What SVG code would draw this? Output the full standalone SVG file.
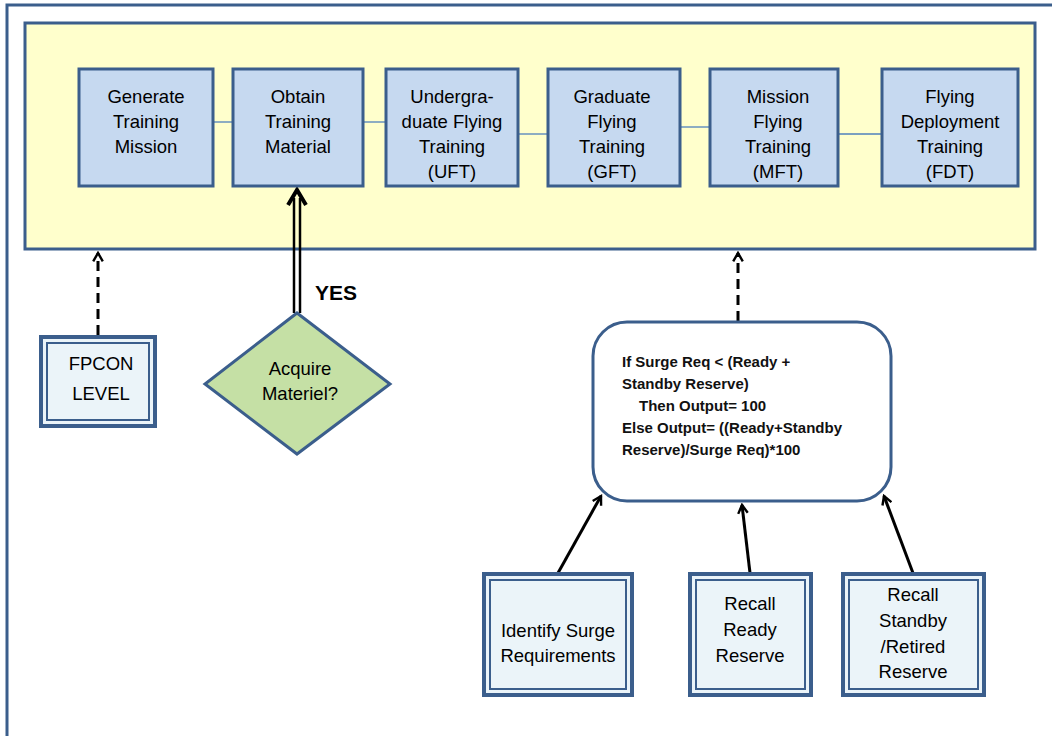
<svg xmlns="http://www.w3.org/2000/svg" width="1052" height="736" viewBox="0 0 1052 736">
<defs>
<style>
.t{font-family:"Liberation Sans",Arial,sans-serif;font-size:18.5px;fill:#000;text-anchor:middle}
.b{font-family:"Liberation Sans",Arial,sans-serif;font-size:15px;font-weight:bold;fill:#111}
.box{fill:#c6d9f0;stroke:#3b5e8c;stroke-width:3}
.lnk{stroke:#4f81bd;stroke-width:1.3;fill:none}
.dbl{fill:#ebf4f9;stroke:#3b5e8c;stroke-width:4}
.dbi{fill:none;stroke:#3b5e8c;stroke-width:2}
.arr{stroke:#000;stroke-width:3;fill:none}
</style>
<marker id="ah" viewBox="0 0 10 10" refX="8" refY="5" markerWidth="4" markerHeight="4" orient="auto" markerUnits="strokeWidth">
<path d="M1,1 L8,5 L1,9" fill="none" stroke="#000" stroke-width="2"/>
</marker>
</defs>
<rect width="1052" height="736" fill="#fff"/>
<path d="M7,736 V5 H1052" fill="none" stroke="#3b5e8c" stroke-width="3"/>
<g id="panel"><rect x="25" y="23" width="1010" height="226" fill="#ffffcc" stroke="#3b5e8c" stroke-width="3"/></g>
<g id="connectors">
<line class="lnk" x1="213" y1="122" x2="233" y2="122"/>
<line class="lnk" x1="363" y1="122" x2="386" y2="122"/>
<line class="lnk" x1="518" y1="134" x2="548" y2="134"/>
<line class="lnk" x1="680" y1="127" x2="710" y2="127"/>
<line class="lnk" x1="838" y1="134" x2="882" y2="134"/>
<line class="arr" x1="98" y1="335" x2="98" y2="253" stroke-dasharray="10,6" marker-end="url(#ah)"/>
<line class="arr" x1="738" y1="321" x2="738" y2="253" stroke-dasharray="10,6" marker-end="url(#ah)"/>
<line x1="294" y1="313" x2="294" y2="198" stroke="#000" stroke-width="2.5"/>
<line x1="300" y1="313" x2="300" y2="198" stroke="#000" stroke-width="2.5"/>
<path d="M288,205 L297,190 L306,205" fill="none" stroke="#000" stroke-width="4" stroke-linejoin="miter"/>
<line class="arr" x1="558" y1="573" x2="601" y2="496" marker-end="url(#ah)"/>
<line class="arr" x1="750" y1="573" x2="742" y2="505" marker-end="url(#ah)"/>
<line class="arr" x1="913" y1="573" x2="884" y2="496" marker-end="url(#ah)"/>
<text x="315" y="300" font-family="Liberation Sans,Arial,sans-serif" font-size="21" font-weight="bold" fill="#000">YES</text>
</g>
<g id="n1"><rect class="box" x="79" y="69" width="134" height="117"/><text class="t" x="146" y="103">Generate</text><text class="t" x="146" y="128">Training</text><text class="t" x="146" y="153">Mission</text></g>
<g id="n2"><rect class="box" x="233" y="69" width="130" height="117"/><text class="t" x="298" y="103">Obtain</text><text class="t" x="298" y="128">Training</text><text class="t" x="298" y="153">Material</text></g>
<g id="n3"><rect class="box" x="386" y="69" width="132" height="117"/><text class="t" x="452" y="103">Undergra-</text><text class="t" x="452" y="128">duate Flying</text><text class="t" x="452" y="153">Training</text><text class="t" x="452" y="178">(UFT)</text></g>
<g id="n4"><rect class="box" x="548" y="69" width="132" height="117"/><text class="t" x="612" y="103">Graduate</text><text class="t" x="612" y="128">Flying</text><text class="t" x="612" y="153">Training</text><text class="t" x="612" y="178">(GFT)</text></g>
<g id="n5"><rect class="box" x="710" y="69" width="128" height="117"/><text class="t" x="778" y="103">Mission</text><text class="t" x="778" y="128">Flying</text><text class="t" x="778" y="153">Training</text><text class="t" x="778" y="178">(MFT)</text></g>
<g id="n6"><rect class="box" x="882" y="69" width="136" height="117"/><text class="t" x="950" y="103">Flying</text><text class="t" x="950" y="128">Deployment</text><text class="t" x="950" y="153">Training</text><text class="t" x="950" y="178">(FDT)</text></g>
<g id="fpcon"><rect class="dbl" x="41" y="337" width="114" height="89"/><rect class="dbi" x="47" y="343" width="102" height="77"/><text class="t" x="101" y="370">FPCON</text><text class="t" x="101" y="400">LEVEL</text></g>
<g id="decision"><polygon points="297,313 390,384 297,454 205,384" fill="#c5e0a5" stroke="#3b5e8c" stroke-width="3"/><text class="t" x="300" y="375">Acquire</text><text class="t" x="300" y="400">Materiel?</text></g>
<g id="calc"><rect x="593" y="322" width="298" height="179" rx="34" fill="#fff" stroke="#3b5e8c" stroke-width="3"/>
<text class="b" x="622" y="367">If Surge Req &lt; (Ready +</text>
<text class="b" x="622" y="389">Standby Reserve)</text>
<text class="b" x="639" y="411">Then Output= 100</text>
<text class="b" x="622" y="433">Else Output= ((Ready+Standby</text>
<text class="b" x="622" y="455">Reserve)/Surge Req)*100</text></g>
<g id="surge"><rect class="dbl" x="484" y="574" width="148" height="121"/><rect class="dbi" x="490" y="580" width="136" height="109"/><text class="t" x="558" y="637">Identify Surge</text><text class="t" x="558" y="662">Requirements</text></g>
<g id="ready"><rect class="dbl" x="690" y="574" width="121" height="121"/><rect class="dbi" x="696" y="580" width="109" height="109"/><text class="t" x="750" y="610">Recall</text><text class="t" x="750" y="636">Ready</text><text class="t" x="750" y="662">Reserve</text></g>
<g id="standby"><rect class="dbl" x="843" y="574" width="141" height="121"/><rect class="dbi" x="849" y="580" width="129" height="109"/><text class="t" x="913" y="601">Recall</text><text class="t" x="913" y="627">Standby</text><text class="t" x="913" y="653">/Retired</text><text class="t" x="913" y="678">Reserve</text></g>
</svg>
